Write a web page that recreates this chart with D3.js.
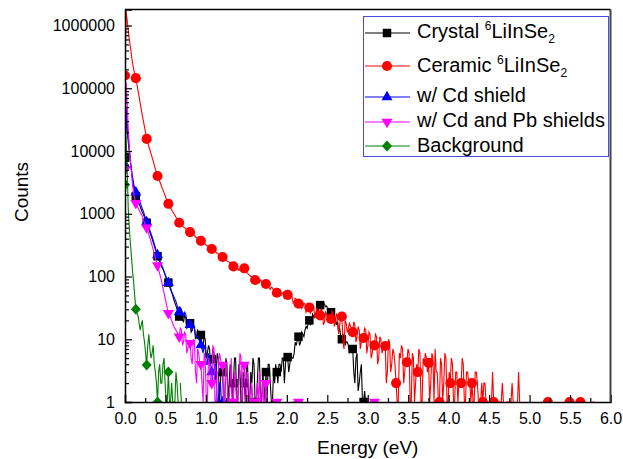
<!DOCTYPE html>
<html>
<head>
<meta charset="utf-8">
<script src="https://cdn.jsdelivr.net/npm/d3@7"></script>
<style>
  body { margin: 0; background: #fff; }
  svg { font-family: "Liberation Sans", Arial, sans-serif; }
</style>
</head>
<body>
<svg id="chart" width="623" height="459"></svg>
<script>
// energy calibration of the spectra (eV per channel)
const binWidth = 0.0134;
const markerEvery = 10;

// counts per channel, channel 0 = 0 eV; 0 = no counts (not drawn on log axis)
const crystal = [
  8000, 32000, 22000, 14000, 9500, 6500, 4800, 3500, 2700, 2200,
  1900, 1750, 1600, 1450, 1300, 1170, 1050, 960, 880, 800,
  720, 640, 560, 500, 450, 400, 350, 310, 270, 240,
  210, 190, 170, 155, 140, 130, 120, 105, 95, 88,
  80, 70, 62, 56, 50, 43, 38, 34, 30, 26,
  23, 28, 26, 20, 19, 24, 22, 15, 16, 19,
  18, 13, 14, 17, 16, 10, 11, 14, 13, 9,
  11.7, 7, 8, 11, 10, 5, 6, 8, 7, 4,
  4.8, 7, 6, 2, 3, 6, 5, 1, 2, 4,
  3, 1, 1, 5, 4, 1, 2, 4, 3, 1,
  2, 5, 5, 1, 1, 4, 3, 1, 1, 3,
  2, 1, 4, 4, 1, 1, 3, 2, 5, 4,
  1, 1, 2, 5, 5, 1, 1, 3, 2, 1,
  3, 1, 4, 4, 2, 1, 1, 3, 2, 4,
  3, 2, 4, 4, 3, 5, 5, 2, 4, 6,
  5.2, 3, 4, 6, 5, 5, 6, 9, 8, 10,
  11, 8, 9, 13, 12, 11, 14, 16, 15, 18,
  20, 17, 18, 25, 23, 22, 26, 30, 28, 33,
  35, 29, 31, 38, 36, 33, 34, 30, 31, 28,
  27, 24, 26, 21, 22, 17, 19, 13, 15, 11,
  10, 12, 11, 8, 9, 9, 8, 6, 7, 7,
  7, 3, 2, 5, 6, 1.5, 2, 3, 4, 1,
  1, 1.5, 1
];

const ceramic = [
  160000, 1700000, 1200000, 850000, 600000, 450000, 330000, 250000, 200000, 170000,
  145000, 115000, 92000, 74000, 58000, 46000, 37000, 30000, 24000, 19500,
  15600, 13500, 11800, 10300, 9000, 7900, 6900, 6000, 5200, 4600,
  4000, 3600, 3300, 2950, 2650, 2400, 2150, 1950, 1750, 1600,
  1440, 1350, 1240, 1160, 1080, 1010, 950, 880, 820, 770,
  720, 700, 670, 640, 610, 600, 580, 555, 540, 525,
  510, 490, 470, 465, 450, 430, 415, 405, 395, 380,
  370, 355, 345, 340, 330, 315, 305, 300, 290, 282,
  275, 262, 255, 250, 245, 232, 228, 220, 215, 212,
  205, 195, 190, 186, 178, 172, 170, 160, 156, 150,
  145, 158, 150, 142, 138, 125, 128, 136, 140, 132,
  135, 122, 118, 112, 108, 104, 100, 98, 95, 91,
  88, 95, 92, 85, 80, 88, 84, 70, 74, 80,
  76, 72, 70, 65, 62, 68, 66, 60, 58, 57,
  55, 62, 60, 52, 50, 54, 56, 45, 47, 52,
  51, 46, 44, 50, 48, 38, 40, 45, 43, 39,
  37, 42, 40, 31, 33, 38, 36, 27, 29, 34,
  32, 26, 28, 36, 34, 22, 25, 31, 29, 26,
  24, 30, 27, 17, 19, 27, 25, 20, 22, 24,
  21, 28, 26, 16, 18, 25, 23, 12, 17, 22,
  23, 9, 7, 20, 18, 13, 15, 18, 16, 14,
  13, 19, 17, 9, 11, 16, 14, 7, 9, 11,
  10.5, 15, 14, 6, 8, 13, 12, 5, 6, 9,
  8, 12, 11, 4, 5, 11, 10, 6, 7, 9,
  7.8, 2, 3, 10, 9, 3, 4, 7, 6, 4,
  2, 1, 1, 6, 5, 8, 7, 2, 3, 5,
  4.3, 7, 6, 1, 1, 6, 5, 1, 2, 4,
  3, 7, 6, 1, 1, 5, 4, 6, 5, 3,
  4.2, 1, 2, 6, 5, 1, 7, 3, 3, 1,
  1, 5, 4, 1, 2, 6, 5, 1, 1, 3,
  2, 5, 4, 1, 1, 3, 3, 1, 2, 2,
  2, 5, 4, 1, 1, 3, 3, 2, 2, 1,
  2, 1, 1, 3, 3, 2, 1, 1, 1, 2,
  1, 2, 2, 1, 1, 1, 1, 1, 1, 3,
  1, 1, 1, 1, 1, 1, 1, 1, 2, 1,
  0, 1, 1, 1, 1, 1, 1, 2, 1, 1,
  0, 1, 1, 3, 1, 0, 0, 0, 0, 0,
  0, 0, 0, 0, 0, 0, 0, 0, 0, 0,
  0, 0, 0, 0, 0, 0, 0, 0, 0, 0,
  1, 1, 1, 0, 0, 0, 0, 0, 0, 0,
  0, 0, 0, 0, 0, 0, 0, 0, 0, 0,
  1, 1, 1, 0, 0, 0, 0, 0, 1, 1,
  1, 1, 0, 0, 0, 0, 0, 0, 0, 0,
  0, 1, 1, 1
];

const cdShield = [
  6000, 48000, 30000, 17000, 11000, 7000, 5000, 3800, 3000, 2500,
  2200, 2000, 1800, 1650, 1500, 1350, 1200, 1080, 950, 840,
  740, 660, 600, 540, 480, 430, 380, 330, 290, 250,
  220, 200, 180, 165, 150, 135, 120, 108, 98, 88,
  79, 72, 66, 58, 52, 48, 44, 40, 35, 30,
  27, 32, 30, 25, 23, 27, 25, 20, 19, 18,
  17, 15, 14, 16, 15, 12, 11, 11, 10, 9,
  8.1, 7, 6, 8, 7, 4, 4, 6, 5, 4,
  3, 2, 2, 4, 4, 1, 1, 2, 2, 1,
  1, 1, 1
];

const cdPbShields = [
  5000, 125000, 60000, 22000, 11000, 7000, 4500, 2800, 2100, 1750,
  1480, 1360, 1250, 1150, 1050, 980, 900, 800, 720, 660,
  600, 530, 470, 410, 360, 310, 270, 230, 200, 170,
  150, 130, 110, 95, 80, 66, 55, 45, 38, 31,
  26, 24, 22, 20, 18, 16, 15, 14, 13, 12,
  11, 15, 14, 8, 9, 13, 12, 6, 7, 9,
  8.7, 5, 4, 10, 9, 3, 2, 7, 6, 4,
  4, 2, 1, 6, 5, 1, 1, 5, 4, 2,
  2, 8, 7, 1, 1, 3, 3, 6, 5, 4,
  3.9, 1, 1, 4, 3, 1, 1, 2, 5, 1,
  1, 3, 2, 1, 1, 2, 6, 5, 1, 4,
  3.9, 1, 1, 3, 2, 1, 1, 2, 1, 1,
  1, 1, 2, 1, 3, 1, 1, 2, 1, 1,
  2, 1, 1, 0, 1, 1, 0, 0, 1, 0,
  1, 0, 0, 0, 0, 1, 0, 0, 0, 0,
  0, 0, 0, 0, 1, 1, 1, 1, 1, 1,
  1, 1, 1, 0, 0, 0, 0, 0, 0, 0,
  0, 0, 0, 0, 0, 0, 0, 0, 0, 0,
  0, 0, 0, 0, 0, 0, 0, 0, 0, 0,
  0, 0, 0, 0, 0, 0, 0, 0, 0, 0,
  0, 0, 0, 0, 0, 0, 0, 0, 0, 0,
  0, 0, 0, 0, 0, 0, 0, 0, 0, 0,
  0, 0, 0, 0, 0, 0, 1, 1, 1, 1,
  1, 1, 1, 1
];

const background = [
  2900, 17000, 5000, 1200, 600, 330, 200, 120, 80, 48,
  30, 26, 24, 18, 14, 17, 20, 12, 9, 6,
  3.9, 8, 12, 7, 5, 6, 8, 4, 3, 2,
  1, 3, 4, 2, 2, 4, 5, 2, 1, 1,
  3, 1, 1, 2, 1, 1, 1, 3, 2, 1,
  0, 2, 1
];

const seriesNames = ["Crystal", "Ceramic", "w/ Cd shield", "w/ Cd and Pb shields", "Background"];
const seriesData = [crystal, ceramic, cdShield, cdPbShields, background];
const seriesColors = ["#000000", "#ff0000", "#0000ff", "#ff00ff", "#008000"];
const seriesMarkers = ["square", "circle", "triangle", "triangleDown", "diamond"];

const xTicks = [0, 0.5, 1, 1.5, 2, 2.5, 3, 3.5, 4, 4.5, 5, 5.5, 6];
const yTicks = [1, 10, 100, 1000, 10000, 100000, 1000000];

const svg = d3.select("#chart");
const plotLeft = 125, plotRight = 610.5, plotTop = 9.5, plotBottom = 402;

const x = d3.scaleLinear().domain([0, 6]).range([plotLeft, plotRight]);
const y = d3.scaleLog().domain([1, 1.8e6]).range([plotBottom, plotTop]);

svg.append("defs").append("clipPath").attr("id", "plot")
  .append("rect").attr("x", plotLeft).attr("y", plotTop)
  .attr("width", plotRight - plotLeft).attr("height", plotBottom - plotTop);

function markerPath(kind) {
  if (kind === "square") return d3.symbol(d3.symbolSquare, 72)();
  if (kind === "circle") return d3.symbol(d3.symbolCircle, 80)();
  if (kind === "triangle" || kind === "triangleDown") return d3.symbol(d3.symbolTriangle, 52)();
  return "M0,-5.5L5,0L0,5.5L-5,0Z"; // diamond
}

const plot = svg.append("g").attr("clip-path", "url(#plot)");

const line = d3.line()
  .defined(d => d.v > 0)
  .x(d => x(d.e))
  .y(d => y(d.v));

seriesData.forEach((arr, i) => {
  const pts = arr.map((v, ch) => ({ e: ch * binWidth, v: v }));
  plot.append("path")
    .attr("d", line(pts))
    .attr("fill", "none")
    .attr("stroke", seriesColors[i])
    .attr("stroke-width", 1.1);

  const marks = pts.filter((d, ch) => ch % markerEvery === 0 && d.v > 0);
  const rot = seriesMarkers[i] === "triangleDown" ? " rotate(180)" : "";
  plot.selectAll(null)
    .data(marks)
    .enter()
    .append("path")
    .attr("d", markerPath(seriesMarkers[i]))
    .attr("transform", d => `translate(${x(d.e)},${y(d.v)})${rot}`)
    .attr("fill", seriesColors[i]);
});

// minor ticks
const xMinor = d3.range(0.25, 6, 0.5);
const yMinor = [];
for (let p = 0; p <= 6; p++) {
  for (let m = 2; m <= 9; m++) {
    const v = m * Math.pow(10, p);
    if (v < 1.8e6) yMinor.push(v);
  }
}

svg.append("g")
  .attr("transform", `translate(0,${plotBottom})`)
  .call(d3.axisBottom(x).tickValues(xTicks).tickSize(-7).tickPadding(11)
    .tickFormat(d3.format(".1f")));
svg.append("g")
  .attr("transform", `translate(0,${plotBottom})`)
  .call(d3.axisBottom(x).tickValues(xMinor).tickSize(-4).tickFormat(""))
  .call(g => g.select(".domain").remove());

svg.append("g")
  .attr("transform", `translate(${plotLeft},0)`)
  .call(d3.axisLeft(y).tickValues(yTicks).tickSize(-7).tickPadding(10)
    .tickFormat(d => String(d)));
svg.append("g")
  .attr("transform", `translate(${plotLeft},0)`)
  .call(d3.axisLeft(y).tickValues(yMinor).tickSize(-4).tickFormat(""))
  .call(g => g.select(".domain").remove());

svg.selectAll(".tick line").attr("stroke", "#000").attr("stroke-width", 1.2);
svg.selectAll(".domain").attr("stroke", "#000").attr("stroke-width", 1.5);
svg.selectAll(".tick text").attr("font-size", 16).attr("fill", "#000")
  .attr("font-family", "Liberation Sans, Arial, sans-serif");

// frame top and right
svg.append("line").attr("x1", plotLeft).attr("x2", plotRight).attr("y1", plotTop).attr("y2", plotTop)
  .attr("stroke", "#000").attr("stroke-width", 1.5);
svg.append("line").attr("x1", plotRight).attr("x2", plotRight).attr("y1", plotTop).attr("y2", plotBottom)
  .attr("stroke", "#444").attr("stroke-width", 2);

// axis titles
svg.append("text")
  .attr("x", (plotLeft + plotRight) / 2).attr("y", 454)
  .attr("text-anchor", "middle").attr("font-size", 19)
  .text("Energy (eV)");
svg.append("text")
  .attr("transform", "translate(28,192) rotate(-90)")
  .attr("text-anchor", "middle").attr("font-size", 19)
  .text("Counts");

// legend
const legend = svg.append("g");
legend.append("rect")
  .attr("x", 363.5).attr("y", 16.5).attr("width", 245).attr("height", 140)
  .attr("fill", "#fff").attr("stroke", "#4a4ae0").attr("stroke-width", 1);

const legendY = [33, 66, 97, 122, 146];
const legendBase = [38, 72, 102, 127, 152];
seriesNames.forEach((name, i) => {
  const ly = legendY[i];
  legend.append("line")
    .attr("x1", 365).attr("x2", 410).attr("y1", ly).attr("y2", ly)
    .attr("stroke", seriesColors[i]).attr("stroke-width", 1);
  const rot = seriesMarkers[i] === "triangleDown" ? " rotate(180)" : "";
  legend.append("path")
    .attr("d", markerPath(seriesMarkers[i]))
    .attr("transform", `translate(387,${ly})${rot}`)
    .attr("fill", seriesColors[i]);
  const t = legend.append("text")
    .attr("x", 417).attr("y", legendBase[i])
    .attr("font-size", 20);
  if (i < 2) {
    t.append("tspan").text(name + " ");
    t.append("tspan").attr("font-size", 12).attr("dy", -8).text("6");
    t.append("tspan").attr("dy", 8).text("LiInSe");
    t.append("tspan").attr("font-size", 12).attr("dy", 5).text("2");
  } else {
    t.text(name);
  }
});
</script>
</body>
</html>
